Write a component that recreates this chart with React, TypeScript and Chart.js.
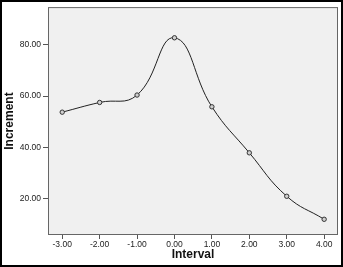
import React, { useEffect, useRef } from "react";
import { Chart, registerables } from "chart.js";

Chart.register(...registerables);

const intervals = [-3, -2, -1, 0, 1, 2, 3, 4];
const increments = [53.7, 57.5, 60.4, 82.8, 55.8, 37.8, 20.8, 11.8];
const yTicks = [20, 40, 60, 80];
const xTicks = [-3, -2, -1, 0, 1, 2, 3, 4];

const framePlugin = {
  id: "frame",
  beforeDraw(chart: any) {
    const { ctx, chartArea: a, width, height } = chart;
    ctx.save();
    ctx.fillStyle = "#ffffff";
    ctx.fillRect(0, 0, width, height);
    ctx.fillStyle = "#f0f0f0";
    ctx.fillRect(a.left, a.top, a.right - a.left, a.bottom - a.top);
    ctx.restore();
  },
  afterDraw(chart: any) {
    const { ctx, chartArea: a, width, height } = chart;
    ctx.save();
    ctx.strokeStyle = "#666";
    ctx.lineWidth = 1;
    ctx.strokeRect(a.left + 0.5, a.top + 0.5, a.right - a.left - 1, a.bottom - a.top - 1);
    ctx.strokeStyle = "#000";
    ctx.lineWidth = 2;
    ctx.strokeRect(1, 1, width - 2, height - 2);
    ctx.restore();
  },
};

export default function App() {
  const ref = useRef<HTMLCanvasElement>(null);
  useEffect(() => {
    document.body.style.margin = "0";
    const chart = new Chart(ref.current!, {
      type: "line",
      data: {
        datasets: [
          {
            data: intervals.map((x, i) => ({ x, y: increments[i] })),
            borderColor: "#222",
            borderWidth: 1,
            tension: 0.45,
            pointRadius: 2.2,
            pointBorderWidth: 1,
            pointBorderColor: "#333",
            pointBackgroundColor: "#d0d0d0",
            fill: false,
          },
        ],
      },
      options: {
        animation: false,
        responsive: false,
        maintainAspectRatio: false,
        layout: { padding: { top: 4, right: 5, left: 0, bottom: 0 } },
        plugins: { legend: { display: false }, tooltip: { enabled: false } },
        scales: {
          x: {
            type: "linear",
            min: -3.38,
            max: 4.37,
            afterBuildTicks: (axis: any) => {
              axis.ticks = xTicks.map((v) => ({ value: v }));
            },
            afterFit: (axis: any) => {
              axis.height = 32;
            },
            ticks: {
              color: "#222",
              font: { family: "Liberation Sans", size: 8.5 },
              padding: 1,
              maxRotation: 0,
              autoSkip: false,
              callback: (v: any) => Number(v).toFixed(2),
            },
            grid: { drawOnChartArea: false, drawTicks: true, tickLength: 4, color: "#555" },
            border: { display: false },
            title: {
              display: true,
              text: "Interval",
              color: "#111",
              font: { family: "Liberation Sans", size: 12, weight: "bold" },
              padding: { top: 0, bottom: 5 },
            },
          },
          y: {
            type: "linear",
            min: 5.65,
            max: 94.8,
            afterBuildTicks: (axis: any) => {
              axis.ticks = yTicks.map((v) => ({ value: v }));
            },
            afterFit: (axis: any) => {
              axis.width = 48;
            },
            ticks: {
              color: "#222",
              font: { family: "Liberation Sans", size: 8.5 },
              padding: 2,
              callback: (v: any) => Number(v).toFixed(2),
            },
            grid: { drawOnChartArea: false, drawTicks: true, tickLength: 5, color: "#555" },
            border: { display: false },
            title: {
              display: true,
              text: "Increment",
              color: "#111",
              font: { family: "Liberation Sans", size: 12, weight: "bold" },
              padding: { top: 2, bottom: 0 },
            },
          },
        },
      },
      plugins: [framePlugin],
    } as any);
    return () => chart.destroy();
  }, []);
  return (
    <div style={{ width: 343, height: 267 }}>
      <canvas ref={ref} width={343} height={267} style={{ display: "block" }} />
    </div>
  );
}
